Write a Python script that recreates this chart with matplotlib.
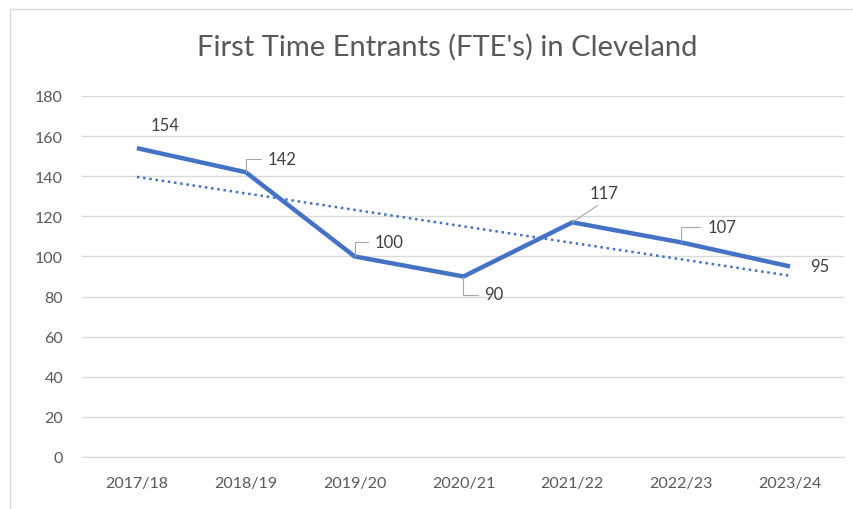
import numpy as np
import matplotlib
matplotlib.use("Agg")
import matplotlib.pyplot as plt
from matplotlib.patches import Rectangle

years = ["2017/18", "2018/19", "2019/20", "2020/21", "2021/22", "2022/23", "2023/24"]
fte = [154, 142, 100, 90, 117, 107, 95]

# label offsets in pixels (dx, dy), alignment, leader style
label_offsets = [(28, 23), (22, 13), (20, 14), (21, -18), (17, 29), (26, 15), (20, 0)]
label_ha = ["center", "left", "left", "left", "left", "left", "left"]
leader = [None, "angle", "angle", "angle", "straight", "angle", None]

plt.rcParams["font.family"] = ["Lato", "DejaVu Sans"]
grey = "#595959"
blue = "#4472C4"

fig = plt.figure(figsize=(8.54, 5.10), dpi=100)
fig.patches.append(Rectangle((10 / 854, -0.01), 1.0, 1 - 10 / 510 + 0.01,
                             transform=fig.transFigure, fill=False,
                             edgecolor="#D9D9D9", linewidth=1))

ax = fig.add_axes([82.5 / 854, 1 - 458 / 510, 762 / 854, 361 / 510])
x = np.arange(len(years))

ax.plot(x, fte, color=blue, linewidth=3.2, solid_capstyle="butt", zorder=3)
slope, intercept = np.polyfit(x, fte, 1)
ax.plot(x, slope * x + intercept, color=blue, linewidth=1.8,
        linestyle=(0, (1, 1.5)), zorder=2)

for i, v in enumerate(fte):
    kw = {}
    if leader[i] == "angle":
        kw["arrowprops"] = dict(arrowstyle="-", color="#A6A6A6", lw=0.8,
                                connectionstyle="angle,angleA=0,angleB=90,rad=0",
                                shrinkA=3, shrinkB=0, relpos=(0, 0.5))
    elif leader[i] == "straight":
        kw["arrowprops"] = dict(arrowstyle="-", color="#A6A6A6", lw=0.8,
                                shrinkA=2, shrinkB=0, relpos=(0.5, 0))
    ax.annotate(str(v), (i, v), xytext=label_offsets[i], textcoords="offset pixels",
                ha=label_ha[i], va="center", fontsize=12, color="#404040", **kw)

ax.set_xlim(-0.5, len(years) - 0.5)
ax.set_ylim(0, 180)
ax.set_yticks(range(0, 181, 20))
ax.set_xticks(x)
ax.set_xticklabels(years)
ax.grid(axis="y", color="#D9D9D9", linewidth=1)
ax.set_axisbelow(True)
for s in ["top", "right", "left"]:
    ax.spines[s].set_visible(False)
ax.spines["bottom"].set_color("#D9D9D9")
ax.tick_params(axis="both", length=0, labelsize=11.5, labelcolor=grey)
ax.tick_params(axis="y", pad=14)
ax.tick_params(axis="x", pad=14)

fig.text(447 / 854, 1 - 47 / 510, "First Time Entrants (FTE's) in Cleveland",
         ha="center", va="center", fontsize=21, color=grey)

fig.savefig("out.png", dpi=100)
